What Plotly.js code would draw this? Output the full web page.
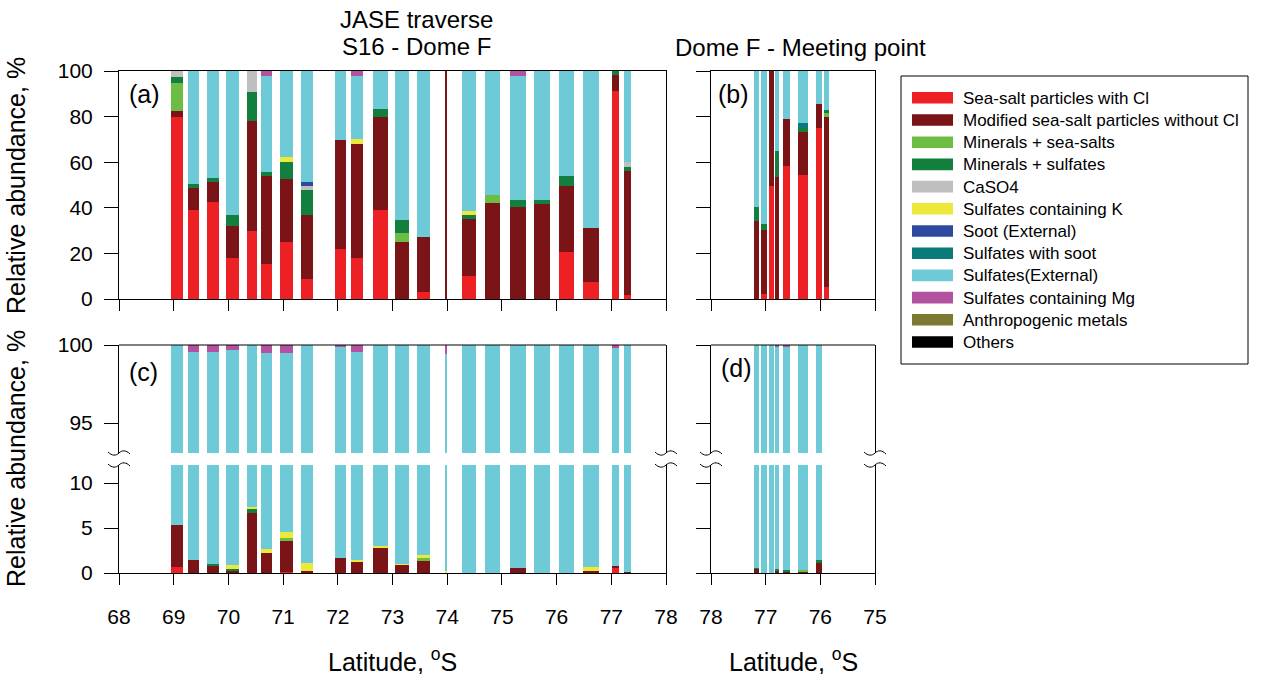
<!DOCTYPE html>
<html><head><meta charset="utf-8">
<script src="https://cdn.plot.ly/plotly-3.0.1.min.js"></script>
<style>html,body{margin:0;padding:0;background:#fff}#chart{width:1261px;height:674px}</style>
</head><body><div id="chart"></div>
<script>
// ---------- categories ----------
const catNames = ['Sea-salt particles with Cl','Modified sea-salt particles without Cl','Minerals + sea-salts','Minerals + sulfates','CaSO4','Sulfates containing K','Soot (External)','Sulfates with soot','Sulfates(External)','Sulfates containing Mg','Anthropogenic metals','Others'];

// ---------- JASE traverse S16 - Dome F (panels a, c) ----------
const latTraverse = [69.06, 69.36, 69.72, 70.07, 70.43, 70.70, 71.07, 71.44, 72.05, 72.35, 72.78, 73.17, 73.57, 73.98, 74.40, 74.83, 75.29, 75.74, 76.18, 76.63, 77.08, 77.29];

// panel (a)
const A_seaSaltCl  = [80.0, 39.2, 42.7, 18.1, 29.8, 15.5, 25.1, 8.9, 21.9, 18.1, 39.0, 0, 3.2, 0, 10.1, 0, 0, 0, 20.6, 7.6, 91.2, 1.8];
const A_modified   = [2.5, 9.5, 8.6, 13.8, 48.1, 38.6, 27.5, 27.8, 48.0, 50.0, 41.0, 25.1, 24.0, 100, 25.1, 42.0, 40.4, 41.5, 29.1, 23.7, 6.9, 54.3];
const A_minSeaSalt = [12.4, 0, 0, 0, 0, 0, 0, 0, 0, 0, 0, 3.8, 0, 0, 0, 3.6, 0, 0, 0, 0, 0, 0];
const A_minSulfate = [2.3, 1.7, 1.8, 4.9, 13.0, 1.6, 7.6, 11.0, 0, 0, 3.3, 5.7, 0, 0, 1.8, 0, 3.2, 1.8, 4.1, 0, 1.9, 1.9];
const A_caso4      = [2.8, 0, 0, 0, 9.1, 0, 0, 2.0, 0, 0, 0, 0, 0, 0, 0, 0, 0, 0, 0, 0, 0, 2.1];
const A_sulfK      = [0, 0, 0, 0, 0, 0, 2.1, 0, 0, 1.9, 0, 0, 0, 0, 1.6, 0, 0, 0, 0, 0, 0, 0];
const A_soot       = [0, 0, 0, 0, 0, 0, 0, 1.8, 0, 0, 0, 0, 0, 0, 0, 0, 0, 0, 0, 0, 0, 0];
const A_sulfExt    = [0, 49.6, 46.9, 63.2, 0, 42.2, 37.7, 48.5, 30.1, 27.9, 16.7, 65.4, 72.8, 0, 61.4, 54.4, 54.3, 56.7, 46.2, 68.7, 0, 39.9];
const A_sulfMg     = [0, 0, 0, 0, 0, 2.1, 0, 0, 0, 2.1, 0, 0, 0, 0, 0, 0, 2.1, 0, 0, 0, 0, 0];

// panel (c)
const C_seaSaltCl  = [0.7, 0, 0, 0, 0, 0, 0.1, 0, 0, 0, 0, 0, 0, 0, 0, 0, 0, 0, 0, 0, 0.6, 0];
const C_modified   = [4.6, 1.4, 0.8, 0.26, 6.7, 2.2, 3.46, 0.22, 1.7, 1.2, 2.8, 0.9, 1.3, 0, 0, 0, 0.56, 0, 0, 0.26, 0.2, 0.15];
const C_minSeaSalt = [0, 0, 0, 0, 0, 0, 0.3, 0, 0, 0, 0, 0, 0.37, 0, 0, 0, 0, 0, 0, 0, 0, 0];
const C_minSulfate = [0, 0, 0.15, 0.18, 0.37, 0, 0, 0, 0, 0, 0, 0, 0, 0, 0, 0, 0, 0, 0, 0, 0, 0];
const C_sulfK      = [0, 0, 0, 0.5, 0.26, 0.48, 0.7, 0.9, 0, 0.2, 0.25, 0.15, 0.3, 0.25, 0, 0, 0, 0, 0, 0.4, 0, 0];
const C_sulfExt    = [94.7, 98.15, 98.62, 98.76, 92.67, 96.82, 94.91, 98.88, 98.2, 98.17, 96.95, 98.95, 98.03, 99.17, 100, 100, 99.44, 100, 100, 99.34, 99.0, 99.85];
const C_sulfMg     = [0, 0.45, 0.43, 0.3, 0, 0.5, 0.53, 0, 0.1, 0.43, 0, 0, 0, 0.58, 0, 0, 0, 0, 0, 0, 0.2, 0];

// ---------- Dome F - Meeting point (panels b, d) ----------
const latMeeting = [77.17, 77.03, 76.90, 76.79, 76.62, 76.32, 76.02, 75.89];

// panel (b)
const B_seaSaltCl  = [0, 2.2, 49.6, 0, 58.3, 54.4, 75.0, 5.3];
const B_modified   = [34.2, 28.1, 50.4, 53.5, 20.6, 18.8, 10.7, 74.7];
const B_minSeaSalt = [0, 0, 0, 0, 0, 0, 0, 1.4];
const B_minSulfate = [6.3, 2.6, 0, 11.5, 0, 1.8, 0, 1.5];
const B_sulfSoot   = [0, 0, 0, 0, 0, 2.0, 0, 0];
const B_sulfExt    = [59.5, 67.1, 0, 35.0, 21.1, 23.0, 14.3, 17.1];

// panel (d)
const D_modified   = [0.4, 0, 0, 0.26, 0.1, 0.1, 1.1];
const D_minSeaSalt = [0, 0, 0, 0, 0, 0.2, 0];
const D_minSulfate = [0.15, 0, 0, 0.18, 0.2, 0, 0.34];
const D_sulfExt    = [99.45, 100, 100, 99.46, 99.6, 99.7, 98.56];
const D_sulfMg     = [0, 0, 0, 0.1, 0.1, 0, 0];

const xTicksTraverse = [68, 69, 70, 71, 72, 73, 74, 75, 76, 77, 78];
const xTicksMeeting = [78, 77, 76, 75];

// ---------- styles ----------
const catColors = ['#ED2024','#7B1416','#6DBD45','#137F3F','#BFBFBF','#EDE93A','#2E4A9E','#0A7A7A','#6ECAD7','#B352A0','#7A7A32','#000000'];
const barWidthTraverse = [0.21, 0.21, 0.22, 0.23, 0.18, 0.19, 0.24, 0.21, 0.20, 0.22, 0.26, 0.26, 0.24, 0.045, 0.26, 0.28, 0.29, 0.29, 0.29, 0.29, 0.13, 0.13];
const barWidthMeeting = [0.10, 0.11, 0.09, 0.085, 0.12, 0.195, 0.11, 0.10];

const panelA = [A_seaSaltCl, A_modified, A_minSeaSalt, A_minSulfate, A_caso4, A_sulfK, A_soot, null, A_sulfExt, A_sulfMg, null, null];
const panelC = [C_seaSaltCl, C_modified, C_minSeaSalt, C_minSulfate, null, C_sulfK, null, null, C_sulfExt, C_sulfMg, null, null];
const panelB = [B_seaSaltCl, B_modified, B_minSeaSalt, B_minSulfate, null, null, null, B_sulfSoot, B_sulfExt, null, null, null];
const panelD = [null, D_modified, D_minSeaSalt, D_minSulfate, null, null, null, null, D_sulfExt, D_sulfMg, null, null];

const traces = [];
function addPanel(xs, widths, series, xa, yas) {
  series.forEach((vals, i) => {
    if (!vals) return;
    yas.forEach(ya => {
      traces.push({
        type: 'bar', name: catNames[i], x: xs.slice(0, vals.length), y: vals,
        width: widths.slice(0, vals.length), xaxis: xa, yaxis: ya,
        marker: {color: catColors[i], line: {width: 0}},
        showlegend: false, hoverinfo: 'skip'
      });
    });
  });
}
addPanel(latTraverse, barWidthTraverse, panelA, 'x', ['y']);
addPanel(latTraverse, barWidthTraverse, panelC, 'x2', ['y2', 'y3']);
addPanel(latMeeting, barWidthMeeting, panelB, 'x3', ['y4']);
addPanel(latMeeting, barWidthMeeting, panelD, 'x4', ['y5', 'y6']);

// ---------- geometry helpers (pixels -> paper) ----------
const W = 1261, H = 674, M = {l: 119, r: 386, t: 71, b: 101};
const PW = W - M.l - M.r, PH = H - M.t - M.b;
const PX = x => (x - M.l) / PW;
const PY = y => (H - M.b - y) / PH;

const dA = [0, PX(666)], dB = [PX(711), 1];
const yA = [PY(299), 1], yCu = [PY(453), PY(345)], yCl = [0, PY(465)];

const FONT = 'Liberation Sans, Arial, Helvetica, sans-serif';
const tickFont = {family: FONT, size: 21, color: '#000'};
const baseAx = {showgrid: false, zeroline: false, showline: true, linecolor: '#000', linewidth: 1,
  ticks: 'outside', tickcolor: '#000', tickwidth: 1, tickfont: tickFont, fixedrange: true};

const layout = {
  width: W, height: H, margin: M, barmode: 'stack', bargap: 0,
  paper_bgcolor: '#fff', plot_bgcolor: 'rgba(0,0,0,0)', showlegend: false,
  font: {family: FONT, color: '#000'},
  xaxis: Object.assign({}, baseAx, {domain: dA, range: [68, 78], anchor: 'y', tickvals: xTicksTraverse, ticklen: 11, showticklabels: false, mirror: true}),
  yaxis: Object.assign({}, baseAx, {domain: yA, range: [0, 100], anchor: 'x', tickvals: [0, 20, 40, 60, 80, 100], ticklen: 14, mirror: true, ticklabelstandoff: 7}),
  xaxis2: Object.assign({}, baseAx, {domain: dA, range: [68, 78], anchor: 'y3', tickvals: xTicksTraverse, ticklen: 11, ticklabelstandoff: 14}),
  yaxis2: Object.assign({}, baseAx, {domain: yCu, range: [93.077, 100], anchor: 'x2', tickvals: [95, 100], ticklen: 14, mirror: true, ticklabelstandoff: 7}),
  yaxis3: Object.assign({}, baseAx, {domain: yCl, range: [0, 12], anchor: 'x2', tickvals: [0, 5, 10], ticklen: 14, mirror: true, ticklabelstandoff: 7}),
  xaxis3: Object.assign({}, baseAx, {domain: dB, range: [78, 75], anchor: 'y4', tickvals: xTicksMeeting, ticklen: 11, showticklabels: false, mirror: true}),
  yaxis4: Object.assign({}, baseAx, {domain: yA, range: [0, 100], anchor: 'x3', tickvals: [0, 20, 40, 60, 80, 100], ticklen: 14, showticklabels: false, mirror: true}),
  xaxis4: Object.assign({}, baseAx, {domain: dB, range: [78, 75], anchor: 'y6', tickvals: xTicksMeeting, ticklen: 11, ticklabelstandoff: 14}),
  yaxis5: Object.assign({}, baseAx, {domain: yCu, range: [93.077, 100], anchor: 'x4', tickvals: [95, 100], ticklen: 14, showticklabels: false, mirror: true}),
  yaxis6: Object.assign({}, baseAx, {domain: yCl, range: [0, 12], anchor: 'x4', tickvals: [0, 5, 10], ticklen: 14, showticklabels: false, mirror: true}),
  shapes: [], annotations: []
};

// top frame lines of the broken panels
layout.shapes.push({type: 'line', xref: 'paper', yref: 'paper', x0: PX(119), x1: PX(666), y0: PY(345), y1: PY(345), line: {color: '#000', width: 1}});
layout.shapes.push({type: 'line', xref: 'paper', yref: 'paper', x0: PX(711), x1: PX(875), y0: PY(345), y1: PY(345), line: {color: '#000', width: 1}});

// axis-break squiggles
function squiggle(x, y) {
  const p = (a, b) => PX(a).toFixed(5) + ',' + PY(b).toFixed(5);
  return 'M' + p(x - 11, y - 1) + ' C' + p(x - 7, y + 3) + ' ' + p(x - 3, y + 3) + ' ' + p(x, y) +
         ' C' + p(x + 3, y - 3) + ' ' + p(x + 7, y - 3) + ' ' + p(x + 11, y + 1);
}
[119, 666, 711, 875].forEach(x => [453, 465].forEach(y => {
  layout.shapes.push({type: 'path', xref: 'paper', yref: 'paper', path: squiggle(x, y), line: {color: '#000', width: 1}});
}));

// custom legend
layout.shapes.push({type: 'rect', xref: 'paper', yref: 'paper', x0: PX(901), x1: PX(1248), y0: PY(76), y1: PY(364), line: {color: '#000', width: 1}, fillcolor: 'rgba(0,0,0,0)'});
catNames.forEach((n, i) => {
  const cy = 97.8 + i * 22.2;
  layout.shapes.push({type: 'rect', xref: 'paper', yref: 'paper', x0: PX(912), x1: PX(953), y0: PY(cy - 5.8), y1: PY(cy + 5.8), line: {width: 0}, fillcolor: catColors[i]});
  layout.annotations.push({xref: 'paper', yref: 'paper', x: PX(961), y: PY(cy + 0.5), xanchor: 'left', yanchor: 'middle', showarrow: false, text: n, font: {family: FONT, size: 17, color: '#000'}});
});

// titles and labels
const ann = (text, x, y, size, extra) => layout.annotations.push(Object.assign({xref: 'paper', yref: 'paper', x: PX(x), y: PY(y), xanchor: 'center', yanchor: 'middle', showarrow: false, text: text, font: {family: FONT, size: size, color: '#000'}}, extra || {}));
ann('JASE traverse', 416, 19, 24);
ann('S16 - Dome F', 416, 46, 24);
ann('Dome F - Meeting point', 800, 47, 24);
ann('(a)', 127, 94, 25, {xanchor: 'left'});
ann('(b)', 716, 94, 25, {xanchor: 'left'});
ann('(c)', 127, 372, 25, {xanchor: 'left'});
ann('(d)', 719, 368, 25, {xanchor: 'left'});
ann('Latitude, <sup>o</sup>S', 392, 660, 25);
ann('Latitude, <sup>o</sup>S', 793, 660, 25);
ann('Relative abundance, %', 16, 186, 25, {textangle: -90});
ann('Relative abundance, %', 16, 459, 25, {textangle: -90});

Plotly.newPlot('chart', traces, layout, {staticPlot: true, displayModeBar: false});
</script>
</body></html>
